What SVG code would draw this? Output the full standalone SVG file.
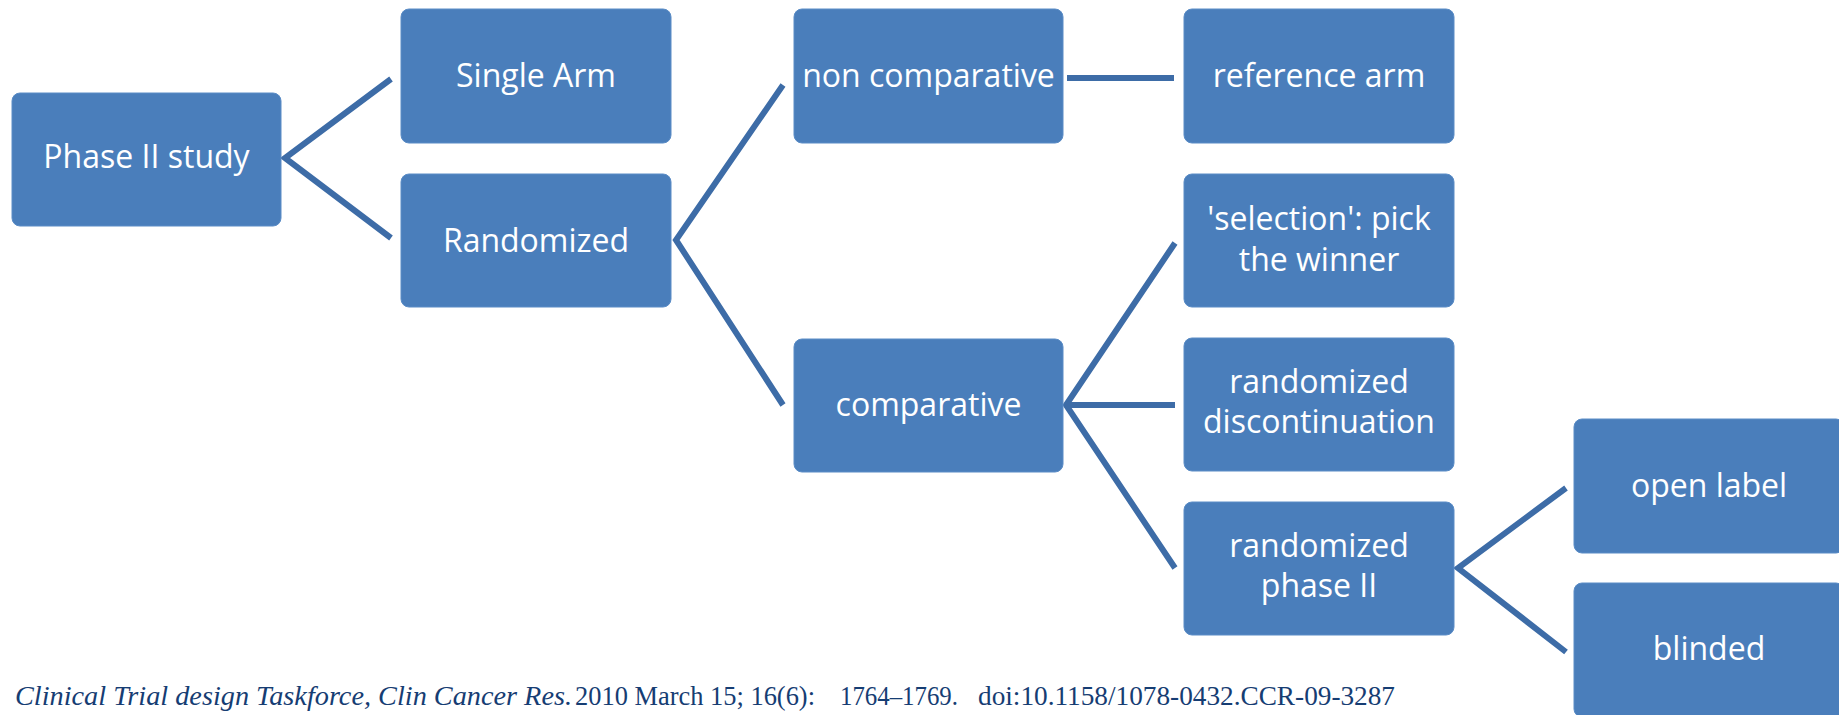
<svg xmlns="http://www.w3.org/2000/svg" width="1839" height="715" viewBox="0 0 1839 715">
<style>
.box{fill:#4a7ebb;stroke:#5a8cc6;stroke-width:1}
.lbl{font-family:"Open Sans","Liberation Sans",sans-serif;font-size:32px;fill:#ffffff;text-anchor:middle}
.conn{stroke:#3d6ca7;stroke-width:6;fill:none;stroke-linejoin:miter}
.cite{font-family:"Liberation Serif","Times New Roman",serif;font-size:27px;fill:#163d73}
</style>
<rect width="1839" height="715" fill="#ffffff"/>
<g id="connectors">
<polyline class="conn" points="391,79 285,158 391,238"/>
<polyline class="conn" points="783,85 676,240 783,405"/>
<line class="conn" x1="1067" y1="78" x2="1174" y2="78" stroke-width="7"/>
<polyline class="conn" points="1175,243 1066,405 1175,568"/>
<line class="conn" x1="1066" y1="405" x2="1175" y2="405"/>
<polyline class="conn" points="1566,488 1458,568 1566,652"/>
</g>
<g id="phase2study"><rect class="box" x="12" y="93" width="269" height="133" rx="8"/><text class="lbl" x="146.5" y="168">Phase II study</text></g>
<g id="singlearm"><rect class="box" x="401" y="9" width="270" height="134" rx="8"/><text class="lbl" x="536" y="87">Single Arm</text></g>
<g id="randomized"><rect class="box" x="401" y="174" width="270" height="133" rx="8"/><text class="lbl" x="536" y="252">Randomized</text></g>
<g id="noncomparative"><rect class="box" x="794" y="9" width="269" height="134" rx="8"/><text class="lbl" x="928.5" y="87">non comparative</text></g>
<g id="comparative"><rect class="box" x="794" y="339" width="269" height="133" rx="8"/><text class="lbl" x="928.5" y="416">comparative</text></g>
<g id="referencearm"><rect class="box" x="1184" y="9" width="270" height="134" rx="8"/><text class="lbl" x="1319" y="87">reference arm</text></g>
<g id="selection"><rect class="box" x="1184" y="174" width="270" height="133" rx="8"/><text class="lbl" x="1319" y="230">'selection': pick</text><text class="lbl" x="1319" y="271">the winner</text></g>
<g id="discontinuation"><rect class="box" x="1184" y="338" width="270" height="133" rx="8"/><text class="lbl" x="1319" y="393">randomized</text><text class="lbl" x="1319" y="433">discontinuation</text></g>
<g id="randomizedphase2"><rect class="box" x="1184" y="502" width="270" height="133" rx="8"/><text class="lbl" x="1319" y="557">randomized</text><text class="lbl" x="1319" y="597">phase II</text></g>
<g id="openlabel"><rect class="box" x="1574" y="419" width="270" height="134" rx="8"/><text class="lbl" x="1709" y="497">open label</text></g>
<g id="blinded"><rect class="box" x="1574" y="583" width="270" height="134" rx="8"/><text class="lbl" x="1709" y="660">blinded</text></g>
<g id="citation">
<text class="cite" x="15" y="705" font-style="italic" textLength="557" lengthAdjust="spacingAndGlyphs">Clinical Trial design Taskforce, Clin Cancer Res.</text>
<text class="cite" x="575" y="705" textLength="240" lengthAdjust="spacingAndGlyphs">2010 March 15; 16(6):</text>
<text class="cite" x="840" y="705" textLength="118" lengthAdjust="spacingAndGlyphs">1764–1769.</text>
<text class="cite" x="978" y="705" textLength="417" lengthAdjust="spacingAndGlyphs">doi:10.1158/1078-0432.CCR-09-3287</text>
</g>
</svg>
